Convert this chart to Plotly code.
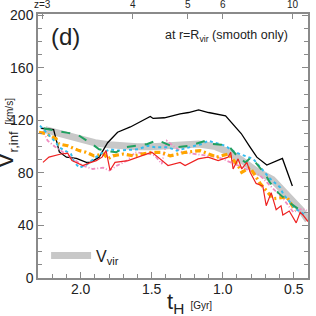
import plotly.graph_objects as go

FONT = "Liberation Sans, Arial, sans-serif"

# ---- data ----
t_vir = [2.25, 2.15, 2.03, 1.90, 1.80, 1.70, 1.60, 1.50, 1.40, 1.30, 1.17, 1.05, 0.96, 0.87, 0.77, 0.65, 0.53, 0.45, 0.40]
v_vir = [113, 110, 106, 103, 101.5, 100.5, 100, 100, 100.5, 101, 102, 100, 96, 90, 82, 75, 62, 52, 44]

t_black = [2.28, 2.19, 2.15, 2.10, 2.03, 1.96, 1.93, 1.87, 1.81, 1.74, 1.65, 1.60, 1.51, 1.49, 1.41, 1.30, 1.24, 1.17, 1.10, 0.98, 0.87, 0.81, 0.76, 0.69, 0.58, 0.51]
v_black = [114, 113, 96, 92, 91, 88, 88, 92, 103, 111, 115, 118, 123, 121.5, 122, 125, 126, 128, 126, 123.5, 110, 100, 92, 86, 91, 70]

t_red = [2.265, 2.223, 2.138, 2.091, 2.061, 1.985, 1.927, 1.89, 1.849, 1.821, 1.793, 1.758, 1.666, 1.570, 1.499, 1.441, 1.385, 1.30, 1.265, 1.173, 1.103, 1.032, 0.962, 0.944, 0.927, 0.892, 0.866, 0.830, 0.807, 0.765, 0.718, 0.694, 0.659, 0.624, 0.59, 0.577, 0.532, 0.483, 0.455, 0.436, 0.40]
v_red = [88, 92, 94.4, 95, 89.4, 85.6, 88, 89.4, 92, 97, 82, 88, 89.4, 93, 95.7, 90.7, 85.6, 88, 85.6, 90.7, 92, 89.4, 92, 95.7, 83, 90.7, 83, 88, 80.5, 72, 70, 55, 65, 52, 55, 48, 51, 42, 50, 48, 43]

t_green = [2.26, 2.22, 2.09, 2.02, 1.92, 1.87, 1.83, 1.75, 1.69, 1.62, 1.53, 1.46, 1.34, 1.24, 1.12, 1.07, 1.01, 0.95, 0.90, 0.84, 0.80, 0.70, 0.67, 0.61, 0.54, 0.46]
v_green = [114, 113, 110.5, 109, 102, 98, 97, 95.7, 99.5, 100.7, 102, 105, 99.5, 100.5, 104.5, 102, 101.5, 99.5, 93, 88, 92, 79, 73, 65, 58, 52]

t_cyan = [2.286, 2.173, 2.15, 2.068, 2.044, 2.009, 1.962, 1.863, 1.793, 1.737, 1.596, 1.525, 1.476, 1.385, 1.323, 1.244, 1.147, 1.103, 0.983, 0.913, 0.821, 0.786, 0.666, 0.596, 0.575, 0.49, 0.42]
v_cyan = [116, 103, 99.5, 94.4, 88, 84, 86, 94.4, 98, 97, 98, 100.7, 99.5, 99.5, 97, 99.5, 102, 104.5, 100.7, 95.7, 92, 90.7, 75.5, 69, 64, 52.8, 48]

t_orange = [2.293, 2.244, 2.173, 2.152, 2.091, 2.011, 1.962, 1.906, 1.835, 1.809, 1.772, 1.701, 1.631, 1.561, 1.499, 1.429, 1.370, 1.314, 1.265, 1.159, 1.103, 1.042, 0.962, 0.892, 0.866, 0.807, 0.737, 0.666, 0.645, 0.549, 0.49]
v_orange = [111, 110, 106, 102, 100.7, 97, 95.7, 93, 94.4, 90.7, 93, 94.4, 93, 94.4, 95.7, 95.7, 93, 94.4, 95.7, 97, 94.4, 92, 94.4, 85.6, 80.5, 84, 72, 63, 60.4, 61.6, 51.5]

t_pink = [2.265, 2.232, 2.18, 2.11, 2.04, 1.985, 1.915, 1.842, 1.798, 1.744, 1.673, 1.617, 1.511, 1.476, 1.429, 1.394, 1.288, 1.103, 1.032, 0.877, 0.737, 0.575, 0.504, 0.443, 0.408]
v_pink = [112, 104.5, 100, 95, 90, 85.6, 83, 84, 81.8, 85.6, 89.4, 95.7, 94.4, 93, 86.9, 104.5, 95.7, 93, 92, 85, 78, 60.4, 50.2, 52.8, 51.5]

z_tick_t = [2.27, 1.633, 1.246, 1.0, 0.506]
z_tick_text = ["z=3", "4", "5", "6", "10"]
x_tick_vals = [2.0, 1.5, 1.0, 0.5]
x_tick_text = ["2.0", "1.5", "1.0", "0.5"]

fig = go.Figure()
fig.add_trace(go.Scatter(x=t_vir, y=v_vir, mode="lines", name="V<sub>vir</sub>",
                         line=dict(color="#c8c8c8", width=7), showlegend=True))
fig.add_trace(go.Scatter(x=t_black, y=v_black, mode="lines", showlegend=False,
                         line=dict(color="black", width=1.3)))
fig.add_trace(go.Scatter(x=t_pink, y=v_pink, mode="lines", showlegend=False,
                         line=dict(color="#f08cc0", width=1.8, dash="4px,2px,1px,2px")))
fig.add_trace(go.Scatter(x=t_orange, y=v_orange, mode="lines", showlegend=False,
                         line=dict(color="#ffa500", width=3.2, dash="6px,3px,2px,3px")))
fig.add_trace(go.Scatter(x=t_cyan, y=v_cyan, mode="lines", showlegend=False,
                         line=dict(color="#33bbee", width=2, dash="dot")))
fig.add_trace(go.Scatter(x=t_green, y=v_green, mode="lines", showlegend=False,
                         line=dict(color="#20a060", width=2, dash="dash")))
fig.add_trace(go.Scatter(x=t_red, y=v_red, mode="lines", showlegend=False,
                         line=dict(color="#ee2222", width=1.2)))
fig.add_trace(go.Scatter(x=[], y=[], xaxis="x2", showlegend=False))

axcol = "#8a8a8a"

annotations = [
    dict(text="(d)", x=0.1, y=0.913, xref="paper", yref="paper",
         showarrow=False, font=dict(size=24), xanchor="center", yanchor="middle"),
    dict(text="at r=R<sub>vir</sub> (smooth only)", x=0.935, y=0.915,
         xref="paper", yref="paper", showarrow=False, font=dict(size=12.5),
         xanchor="right", yanchor="middle"),
    dict(text="V<sub><span style='font-size:13px'>r,inf</span></sub> "
              "<span style='font-size:10px'>[km/s]</span>",
         x=-0.12, y=0.55, xref="paper", yref="paper", textangle=-90,
         showarrow=False, font=dict(size=24), xanchor="center", yanchor="middle"),
    dict(text="t<sub>H</sub> <span style='font-size:10px'>[Gyr]</span>",
         x=0.56, y=-0.095, xref="paper", yref="paper",
         showarrow=False, font=dict(size=22), xanchor="center", yanchor="middle"),
]
for zt, zl in zip(z_tick_t, z_tick_text):
    annotations.append(dict(text=zl, x=zt, xref="x", y=1.036, yref="paper",
                            showarrow=False, font=dict(size=10),
                            xanchor="center", yanchor="middle"))

fig.update_layout(
    width=316, height=316,
    margin=dict(l=38, r=8, t=14, b=38),
    paper_bgcolor="white", plot_bgcolor="white",
    font=dict(family=FONT, color="#222", size=14),
    xaxis=dict(range=[2.3, 0.4], tickvals=x_tick_vals, ticktext=x_tick_text,
               ticks="inside", ticklen=6, tickcolor=axcol, tickwidth=1.2,
               minor=dict(dtick=0.1, tick0=0, ticks="inside", ticklen=4, tickcolor=axcol),
               showline=True, linecolor=axcol, linewidth=1.5, mirror=True,
               showgrid=False, zeroline=False, tickfont=dict(size=14),
               automargin=False, ticklabelstandoff=-3),
    xaxis2=dict(range=[2.3, 0.4], overlaying="x", side="top", tickvals=z_tick_t,
                ticks="inside", ticklen=5, tickcolor=axcol, showticklabels=False,
                showline=False, showgrid=False, zeroline=False, automargin=False),
    yaxis=dict(range=[0, 201], dtick=40, ticks="inside", ticklen=6, tickcolor=axcol,
               tickwidth=1.2,
               minor=dict(dtick=10, ticks="inside", ticklen=4, tickcolor=axcol),
               showline=True, linecolor=axcol, linewidth=1.5, mirror="ticks",
               showgrid=False, zeroline=False, tickfont=dict(size=14),
               automargin=False),
    legend=dict(x=0.03, y=0.02, xanchor="left", yanchor="bottom",
                bgcolor="rgba(0,0,0,0)", font=dict(size=16), itemwidth=40),
    annotations=annotations,
)

fig.write_html("out.html", config={"displayModeBar": False},
               post_script="document.body.style.margin='0';")
